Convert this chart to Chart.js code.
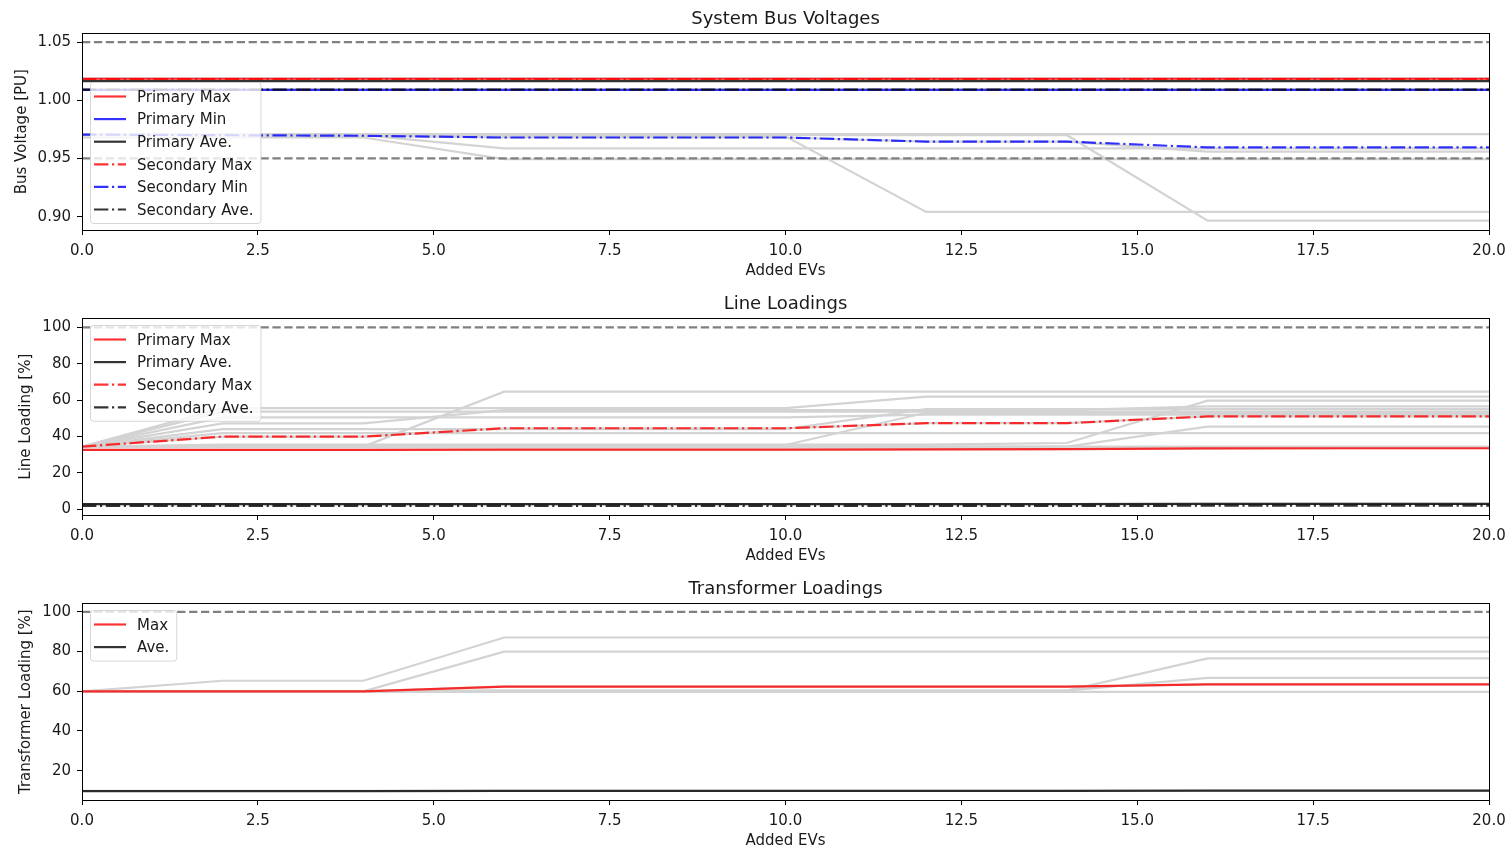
<!DOCTYPE html>
<html>
<head>
<meta charset="utf-8">
<script src="https://cdn.jsdelivr.net/npm/chart.js@4.4.0/dist/chart.umd.min.js"></script>
<style>
html, body { margin: 0; padding: 0; background: #fff; overflow: hidden; width: 1509px; height: 848px; }
canvas { position: absolute; left: 0; }
</style>
</head>
<body>
<canvas id="busChart" width="1509" height="285" style="top:0px"></canvas>
<canvas id="lineChart" width="1509" height="285" style="top:285px"></canvas>
<canvas id="trafoChart" width="1509" height="285" style="top:570px"></canvas>
<script>
// x values (added EVs) and tick labels
const addedEVs = [0, 2, 4, 6, 8, 10, 12, 14, 16, 18, 20];
const xTicks = [0, 2.5, 5, 7.5, 10, 12.5, 15, 17.5, 20];

// --- bus voltages [PU] ---
const vPrimaryMax   = [1.0185, 1.0185, 1.0185, 1.0185, 1.0185, 1.0185, 1.0185, 1.0185, 1.0185, 1.0185, 1.0185];
const vPrimaryMin   = [1.009, 1.009, 1.009, 1.009, 1.009, 1.009, 1.009, 1.009, 1.009, 1.009, 1.009];
const vPrimaryAve   = [1.0165, 1.0165, 1.0165, 1.0165, 1.0165, 1.0165, 1.0165, 1.0165, 1.0165, 1.0165, 1.0165];
const vSecondaryMax = [1.0183, 1.0183, 1.0183, 1.0183, 1.0183, 1.0183, 1.0183, 1.0183, 1.0183, 1.0183, 1.0183];
const vSecondaryMin = [0.9705, 0.9700, 0.9695, 0.9680, 0.9680, 0.9680, 0.9645, 0.9645, 0.9595, 0.9595, 0.9595];
const vSecondaryAve = [1.0092, 1.0092, 1.0092, 1.0092, 1.0092, 1.0092, 1.0092, 1.0092, 1.0092, 1.0092, 1.0092];
const vUpperLimit   = [1.05, 1.05, 1.05, 1.05, 1.05, 1.05, 1.05, 1.05, 1.05, 1.05, 1.05];
const vLowerLimit   = [0.95, 0.95, 0.95, 0.95, 0.95, 0.95, 0.95, 0.95, 0.95, 0.95, 0.95];
const vOtherCases = [
  [0.9710, 0.9710, 0.9710, 0.9710, 0.9710, 0.9710, 0.9710, 0.9710, 0.9710, 0.9710, 0.9710],
  [0.9700, 0.9700, 0.9700, 0.9587, 0.9587, 0.9587, 0.9587, 0.9587, 0.9587, 0.9587, 0.9587],
  [0.9680, 0.9680, 0.9680, 0.9495, 0.9495, 0.9495, 0.9495, 0.9495, 0.9495, 0.9495, 0.9495],
  [0.9705, 0.9700, 0.9695, 0.9690, 0.9690, 0.9690, 0.9040, 0.9040, 0.9040, 0.9040, 0.9040],
  [0.9705, 0.9700, 0.9700, 0.9700, 0.9700, 0.9700, 0.9700, 0.9700, 0.8965, 0.8965, 0.8965],
  [0.9705, 0.9700, 0.9695, 0.9680, 0.9680, 0.9680, 0.9645, 0.9645, 0.9558, 0.9558, 0.9558],
  [1.0188, 1.0188, 1.0188, 1.0188, 1.0188, 1.0188, 1.0188, 1.0188, 1.0188, 1.0188, 1.0188],
  [1.0095, 1.0095, 1.0095, 1.0095, 1.0095, 1.0095, 1.0095, 1.0095, 1.0095, 1.0095, 1.0095]
];
const vTicks = [0.90, 0.95, 1.00, 1.05];

// --- line loadings [%] ---
const lPrimaryMax   = [32.6, 32.6, 32.6, 32.7, 32.7, 32.8, 32.9, 33.0, 33.4, 33.5, 33.5];
const lPrimaryAve   = [2.8, 2.8, 2.8, 2.8, 2.8, 2.8, 2.8, 2.8, 2.9, 2.9, 2.9];
const lSecondaryMax = [34.4, 39.9, 39.9, 44.5, 44.5, 44.5, 47.3, 47.3, 51.0, 51.0, 51.0];
const lSecondaryAve = [1.8, 1.8, 1.8, 1.8, 1.8, 1.8, 1.8, 1.8, 1.9, 1.9, 1.9];
const lLimit        = [100, 100, 100, 100, 100, 100, 100, 100, 100, 100, 100];
const lOtherCases = [
  [34.4, 34.4, 34.4, 64.6, 64.6, 64.6, 64.6, 64.6, 64.6, 64.6, 64.6],
  [34.4, 55.6, 55.6, 55.6, 55.6, 55.6, 61.9, 61.9, 61.9, 61.9, 61.9],
  [34.4, 35.5, 35.5, 35.5, 35.5, 35.5, 35.5, 36.4, 59.7, 59.7, 59.7],
  [34.4, 53.6, 53.6, 53.6, 53.6, 53.6, 53.6, 53.6, 53.6, 53.6, 53.6],
  [34.4, 47.2, 47.2, 54.5, 54.5, 54.5, 54.5, 54.5, 56.5, 56.5, 56.5],
  [34.4, 34.4, 34.4, 35.3, 35.3, 35.3, 53.0, 53.0, 53.0, 53.0, 53.0],
  [34.4, 44.0, 44.0, 44.0, 44.0, 44.0, 55.0, 55.0, 55.0, 55.0, 55.0],
  [34.4, 41.8, 41.8, 41.8, 41.8, 41.8, 41.8, 41.8, 41.8, 41.8, 41.8],
  [34.4, 39.9, 39.9, 44.5, 44.5, 44.5, 47.3, 47.3, 51.0, 51.0, 51.0],
  [34.4, 34.4, 34.4, 34.4, 34.4, 34.4, 34.4, 34.4, 34.4, 34.4, 34.4],
  [34.4, 34.4, 34.4, 34.4, 34.4, 34.4, 34.4, 34.4, 45.4, 45.4, 45.4],
  [34.4, 50.5, 50.5, 50.5, 50.5, 50.5, 52.0, 52.0, 52.0, 52.0, 52.0],
  [32.6, 32.6, 32.6, 32.7, 32.7, 32.8, 32.9, 33.0, 33.4, 33.5, 33.5],
  [2.8, 2.8, 2.8, 2.8, 2.8, 2.8, 2.8, 2.8, 2.9, 2.9, 2.9]
];
const lTicks = [0, 20, 40, 60, 80, 100];

// --- transformer loadings [%] ---
const tMax   = [60.0, 60.0, 60.0, 62.3, 62.3, 62.3, 62.3, 62.3, 63.5, 63.5, 63.5];
const tAve   = [9.7, 9.7, 9.7, 9.8, 9.8, 9.8, 9.8, 9.8, 9.9, 9.9, 9.9];
const tLimit = [100, 100, 100, 100, 100, 100, 100, 100, 100, 100, 100];
const tOtherCases = [
  [60.0, 65.3, 65.3, 87.1, 87.1, 87.1, 87.1, 87.1, 87.1, 87.1, 87.1],
  [60.0, 60.0, 60.0, 80.0, 80.0, 80.0, 80.0, 80.0, 80.0, 80.0, 80.0],
  [60.0, 60.0, 60.0, 60.3, 60.3, 60.3, 60.3, 60.3, 76.6, 76.6, 76.6],
  [60.0, 60.0, 60.0, 60.3, 60.3, 60.3, 60.3, 60.3, 66.8, 66.8, 66.8],
  [59.7, 59.7, 59.7, 59.7, 59.7, 59.7, 59.7, 59.7, 59.7, 59.7, 59.7],
  [60.0, 60.0, 60.0, 62.3, 62.3, 62.3, 62.3, 62.3, 63.5, 63.5, 63.5],
  [9.8, 9.8, 9.8, 9.8, 9.8, 9.8, 9.8, 9.8, 9.8, 9.8, 9.8]
];
const tTicks = [20, 40, 60, 80, 100];

// --- styles ---
const FONT = 'DejaVu Sans';
const TXT = '#1a1a1a';
const RED = 'rgba(255,0,0,0.8)', BLUE = 'rgba(0,0,255,0.8)', BLACK = 'rgba(0,0,0,0.8)';
const GREY = '#d3d3d3', LIMIT = '#808080';
const LW = 2.2;
const dashed = [8.3, 3.6];
const dashDot = [14.4, 3.6, 2.2, 3.6];

const pts = ys => addedEVs.map((x, i) => ({ x: x, y: ys[i] }));

function mainLine(label, ys, color, dash, order) {
  return { label, data: pts(ys), borderColor: color, borderWidth: LW, borderDash: dash,
           inLegend: true, order: order };
}
function greyLines(list) {
  return list.map(ys => ({ label: '', data: pts(ys), borderColor: GREY, borderWidth: LW, order: 20 }));
}
function limitLine(ys) {
  return { label: '', data: pts(ys), borderColor: LIMIT, borderWidth: LW, borderDash: dashed, order: 10 };
}

// frame (all four spines) + matplotlib-like legend drawn over the lines
const frameAndLegend = {
  id: 'frameAndLegend',
  afterDatasetsDraw(chart, args, opts) {
    const { ctx, chartArea: a } = chart;
    ctx.save();
    ctx.strokeStyle = '#000';
    ctx.lineWidth = 1;
    ctx.strokeRect(Math.round(a.left) + 0.5, Math.round(a.top) + 0.5,
                   Math.round(a.right - a.left), Math.round(a.bottom - a.top));

    const items = chart.data.datasets.filter(d => d.inLegend);
    ctx.font = '15px "' + FONT + '"';
    const tw = Math.max(...items.map(d => ctx.measureText(d.label).width));
    const w = 47 + tw + 7;
    const h = 28 + (items.length - 1) * 22.6;
    const x = Math.round(a.left) + 8;
    const y = opts.corner === 'lower' ? Math.round(a.bottom - 7 - h) : Math.round(a.top) + 7;
    ctx.beginPath();
    ctx.roundRect(x + 0.5, y + 0.5, w, h, 3);
    ctx.fillStyle = 'rgba(255,255,255,0.8)';
    ctx.fill();
    ctx.strokeStyle = 'rgba(204,204,204,0.8)';
    ctx.stroke();
    items.forEach((d, i) => {
      const cy = y + 14.5 + i * 22.6;
      ctx.beginPath();
      ctx.setLineDash(d.borderDash || []);
      ctx.strokeStyle = d.borderColor;
      ctx.lineWidth = d.borderWidth;
      ctx.moveTo(x + 4, cy);
      ctx.lineTo(x + 36, cy);
      ctx.stroke();
      ctx.setLineDash([]);
      ctx.fillStyle = TXT;
      ctx.textBaseline = 'middle';
      ctx.textAlign = 'left';
      ctx.fillText(d.label, x + 47, cy + 1.5);
    });
    ctx.restore();
  }
};

function makeChart(id, title, datasets, y, corner) {
  return new Chart(document.getElementById(id), {
    type: 'line',
    data: { datasets: datasets },
    plugins: [frameAndLegend],
    options: {
      responsive: false,
      animation: false,
      layout: { padding: { left: 0, right: 20, top: 0, bottom: 0 } },
      elements: { point: { radius: 0 }, line: { tension: 0, borderCapStyle: 'butt' } },
      plugins: {
        legend: { display: false },
        tooltip: { enabled: false },
        frameAndLegend: { corner: corner },
        title: {
          display: true, text: title, fullSize: false, color: TXT,
          font: { family: FONT, size: 18, weight: 'normal' },
          padding: { top: 9, bottom: 2.8 }
        }
      },
      scales: {
        x: {
          type: 'linear', min: 0, max: 20,
          afterBuildTicks: s => { s.ticks = xTicks.map(v => ({ value: v })); },
          afterFit: s => { s.height = 55; s.paddingLeft = 0; s.paddingRight = 0; },
          ticks: { color: TXT, font: { family: FONT, size: 15 }, padding: 7,
                   maxRotation: 0, autoSkip: false, callback: v => v.toFixed(1) },
          grid: { drawOnChartArea: false, drawTicks: true, tickLength: 5, color: '#000' },
          border: { display: true, color: '#000' },
          title: { display: true, text: 'Added EVs', color: TXT,
                   font: { family: FONT, size: 15 }, padding: { top: 0, bottom: 5 } }
        },
        y: {
          type: 'linear', min: y.min, max: y.max,
          afterBuildTicks: s => { s.ticks = y.ticks.map(v => ({ value: v })); },
          afterFit: s => { s.width = 82; s.paddingTop = 0; s.paddingBottom = 0; },
          ticks: { color: TXT, font: { family: FONT, size: 15 }, padding: 6,
                   callback: v => v.toFixed(y.digits) },
          grid: { drawOnChartArea: false, drawTicks: true, tickLength: 5, color: '#000' },
          border: { display: true, color: '#000' },
          title: { display: true, text: y.title, color: TXT,
                   font: { family: FONT, size: 15 }, padding: { top: y.titlePad, bottom: 0 } }
        }
      }
    }
  });
}

makeChart('busChart', 'System Bus Voltages', [
  mainLine('Primary Max', vPrimaryMax, RED, [], 6),
  mainLine('Primary Min', vPrimaryMin, BLUE, [], 5),
  mainLine('Primary Ave.', vPrimaryAve, BLACK, [], 4),
  mainLine('Secondary Max', vSecondaryMax, RED, dashDot, 3),
  mainLine('Secondary Min', vSecondaryMin, BLUE, dashDot, 2),
  mainLine('Secondary Ave.', vSecondaryAve, BLACK, dashDot, 1),
  limitLine(vUpperLimit),
  limitLine(vLowerLimit),
  ...greyLines(vOtherCases)
], { min: 0.8885, max: 1.0575, ticks: vTicks, digits: 2, title: 'Bus Voltage [PU]', titlePad: 13 }, 'lower');

makeChart('lineChart', 'Line Loadings', [
  mainLine('Primary Max', lPrimaryMax, RED, [], 4),
  mainLine('Primary Ave.', lPrimaryAve, BLACK, [], 3),
  mainLine('Secondary Max', lSecondaryMax, RED, dashDot, 2),
  mainLine('Secondary Ave.', lSecondaryAve, BLACK, dashDot, 1),
  limitLine(lLimit),
  ...greyLines(lOtherCases)
], { min: -3.2, max: 104.9, ticks: lTicks, digits: 0, title: 'Line Loading [%]', titlePad: 17 }, 'upper');

makeChart('trafoChart', 'Transformer Loadings', [
  mainLine('Max', tMax, RED, [], 2),
  mainLine('Ave.', tAve, BLACK, [], 1),
  limitLine(tLimit),
  ...greyLines(tOtherCases)
], { min: 5.2, max: 104.3, ticks: tTicks, digits: 0, title: 'Transformer Loading [%]', titlePad: 17 }, 'upper');
</script>
</body>
</html>
